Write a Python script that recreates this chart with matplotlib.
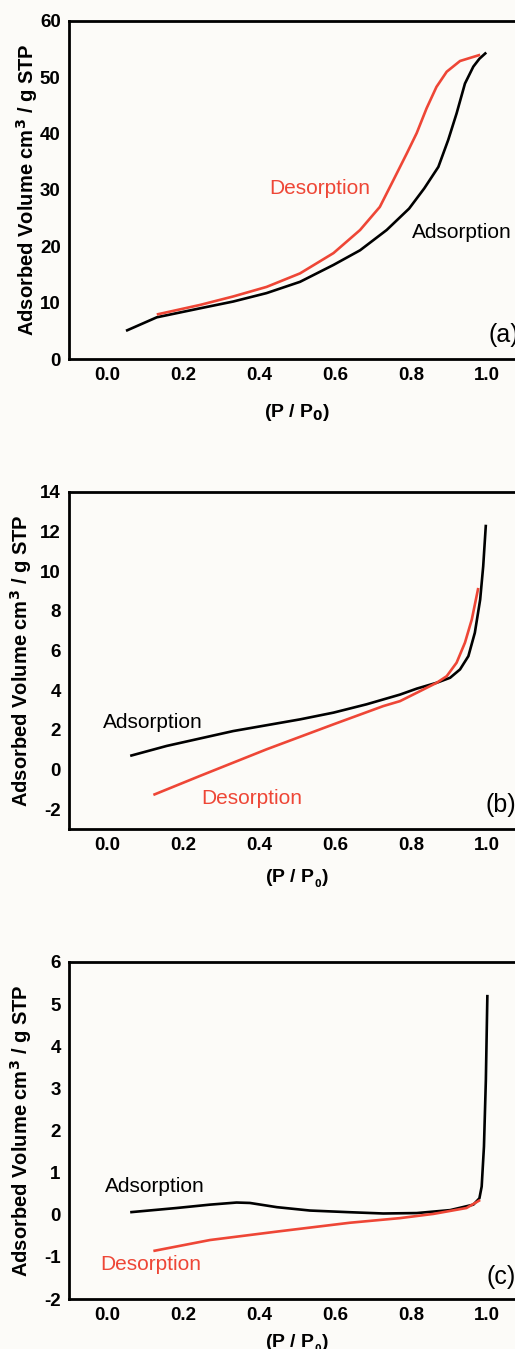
import matplotlib
matplotlib.use("Agg")
import matplotlib.pyplot as plt

plt.rcParams['font.family'] = ['Liberation Sans', 'DejaVu Sans']

BG = '#fcfbf8'
RED = '#ee4636'

# Panel (a)
a_ads_x = [0.05, 0.131, 0.245, 0.332, 0.420, 0.508, 0.596, 0.666, 0.736, 0.795, 0.835, 0.872, 0.898, 0.920, 0.942, 0.964, 0.980, 0.998]
a_ads_y = [5.0, 7.4, 9.0, 10.2, 11.7, 13.7, 16.7, 19.3, 22.9, 26.7, 30.3, 34.1, 38.9, 43.6, 48.9, 51.9, 53.3, 54.4]
a_des_x = [0.131, 0.245, 0.332, 0.420, 0.508, 0.596, 0.666, 0.718, 0.754, 0.789, 0.815, 0.841, 0.867, 0.894, 0.929, 0.982]
a_des_y = [7.9, 9.6, 11.1, 12.8, 15.2, 18.8, 22.9, 27.0, 31.8, 36.5, 40.1, 44.5, 48.3, 51.0, 52.9, 54.0]

# Panel (b)
b_ads_x = [0.061, 0.157, 0.332, 0.508, 0.596, 0.683, 0.771, 0.815, 0.868, 0.903, 0.929, 0.951, 0.968, 0.982, 0.990, 0.997]
b_ads_y = [0.69, 1.19, 1.94, 2.53, 2.87, 3.29, 3.78, 4.08, 4.38, 4.63, 5.05, 5.72, 6.9, 8.57, 10.25, 12.35]
b_des_x = [0.122, 0.245, 0.420, 0.596, 0.727, 0.771, 0.815, 0.868, 0.894, 0.920, 0.942, 0.960, 0.977]
b_des_y = [-1.28, -0.32, 1.02, 2.28, 3.2, 3.45, 3.87, 4.38, 4.71, 5.39, 6.4, 7.57, 9.16]

# Panel (c)
c_ads_x = [0.061, 0.183, 0.271, 0.341, 0.376, 0.447, 0.534, 0.639, 0.727, 0.815, 0.903, 0.964, 0.980, 0.986, 0.992, 0.997, 1.001]
c_ads_y = [0.06, 0.16, 0.24, 0.29, 0.28, 0.18, 0.10, 0.06, 0.03, 0.04, 0.11, 0.24, 0.39, 0.67, 1.62, 3.2, 5.22]
c_des_x = [0.122, 0.271, 0.447, 0.639, 0.771, 0.859, 0.946, 0.982]
c_des_y = [-0.86, -0.60, -0.40, -0.19, -0.08, 0.02, 0.16, 0.35]

x_ticks = [0.0, 0.2, 0.4, 0.6, 0.8, 1.0]
a_yticks = list(range(0, 61, 10))
b_yticks = list(range(-2, 15, 2))
c_yticks = list(range(-2, 7, 1))

W, H = 515, 1349
AX_LEFT, AX_W = 69, 456
fig = plt.figure(figsize=(W / 100, H / 100), dpi=100, facecolor=BG)

def make_ax(top_px, bot_px):
    return fig.add_axes([AX_LEFT / W, 1 - bot_px / H, AX_W / W, (bot_px - top_px) / H])

panels = [
    dict(top=21, bot=359, ylim=(0, 60), yticks=a_yticks,
         ads=(a_ads_x, a_ads_y), des=(a_des_x, a_des_y),
         ads_lab=(0.803, 22.4), des_lab=(0.426, 30.2), tag=('(a)', 1.003, 4.3),
         xlabel=r'(P / P$_\mathbf{0}$)', xlab_y=-0.128, ylab_x=40),
    dict(top=492, bot=829, ylim=(-3, 14), yticks=b_yticks,
         ads=(b_ads_x, b_ads_y), des=(b_des_x, b_des_y),
         ads_lab=(-0.01, 2.35), des_lab=(0.247, -1.44), tag=('(b)', 0.995, -1.8),
         xlabel=r'(P / P$_{_\mathbf{0}}$)', xlab_y=-0.114, ylab_x=34),
    dict(top=962, bot=1299, ylim=(-2, 6), yticks=c_yticks,
         ads=(c_ads_x, c_ads_y), des=(c_des_x, c_des_y),
         ads_lab=(-0.005, 0.66), des_lab=(-0.018, -1.19), tag=('(c)', 1.0, -1.48),
         xlabel=r'(P / P$_{_\mathbf{0}}$)', xlab_y=-0.098, ylab_x=34),
]

for p in panels:
    ax = make_ax(p['top'], p['bot'])
    ax.set_facecolor(BG)
    ax.plot(*p['ads'], color='black', lw=1.9, solid_capstyle='butt', solid_joinstyle='round')
    ax.plot(*p['des'], color=RED, lw=1.9, solid_capstyle='butt', solid_joinstyle='round')
    ax.set_xlim(-0.1, 1.1)
    ax.set_ylim(*p['ylim'])
    ax.set_xticks(x_ticks)
    ax.set_xticklabels([f'{t:.1f}' for t in x_ticks])
    ax.set_yticks(p['yticks'])
    ax.set_yticklabels([str(t) for t in p['yticks']])
    ax.tick_params(length=0, labelsize=13.5, pad=6)
    for lab in ax.get_xticklabels() + ax.get_yticklabels():
        lab.set_fontweight('bold')
    for s in ax.spines.values():
        s.set_linewidth(2.0)
    ax.set_xlabel(p['xlabel'], fontsize=14, fontweight='bold')
    ax.xaxis.set_label_coords(0.5, p['xlab_y'])
    ax.set_ylabel(r'Adsorbed Volume cm$^\mathbf{3}$ / g STP', fontsize=14.5, fontweight='bold')
    ax.yaxis.set_label_coords((p['ylab_x'] - AX_LEFT) / AX_W, 0.5)
    ax.text(*p['ads_lab'], 'Adsorption', color='black', fontsize=15, va='center', ha='left')
    ax.text(*p['des_lab'], 'Desorption', color=RED, fontsize=15, va='center', ha='left')
    ax.text(p['tag'][1], p['tag'][2], p['tag'][0], color='black', fontsize=18, va='center', ha='left')

fig.savefig('out.png', dpi=100, facecolor=BG)
